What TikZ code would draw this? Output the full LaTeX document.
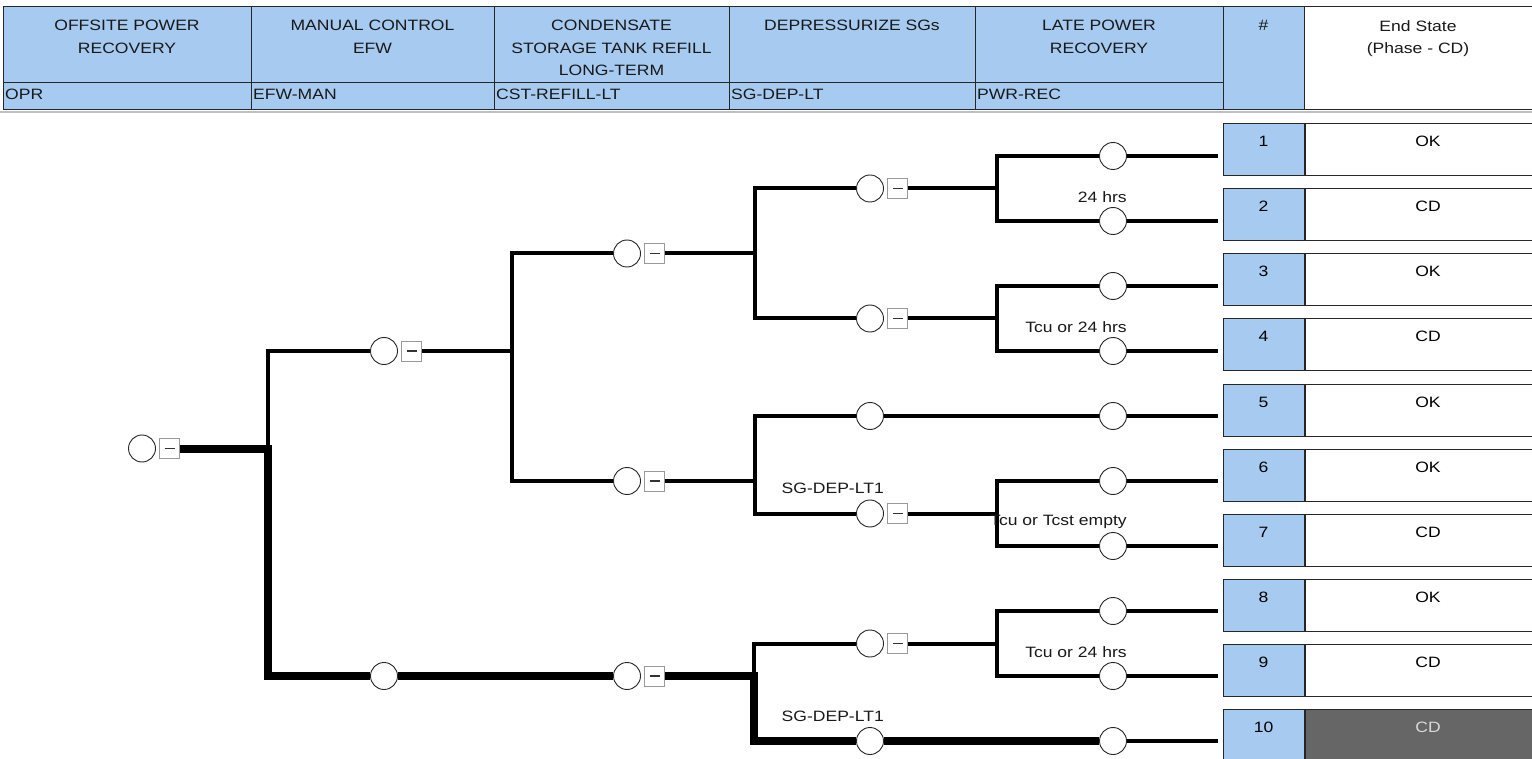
\documentclass[tikz,border=0pt]{standalone}
\usepackage{fontspec}
\setmainfont{Liberation Sans}[FakeStretch=1.17]
\usetikzlibrary{positioning}
\definecolor{hblue}{HTML}{A6CAF0}
\definecolor{esdarkgray}{HTML}{666666}
\tikzset{
  hcell/.style={draw=black!85, fill=hblue, line width=1pt},
  ecell/.style={draw=black!85, fill=white, line width=1pt},
  htext/.style={anchor=north, align=center, inner sep=0pt, text=black!90},
  ctext/.style={anchor=base west, inner sep=0pt, text=black!90},
  ev/.style={circle, draw=black!85, fill=white, line width=0.9pt,
    minimum size=27pt, inner sep=0pt},
  gate/.style={draw=black!40, fill=white, line width=0.9pt,
    minimum size=20pt, inner sep=0pt,
    path picture={\draw[black!80, line width=1.3pt]
      ([xshift=-5pt]path picture bounding box.center) --
      ([xshift=5pt]path picture bounding box.center);}},
  branch/.style={line width=4pt, black},
  fatbranch/.style={line width=8pt, black},
  lbl/.style={anchor=east, inner sep=0pt, text=black!90},
  numbox/.style={draw=black!85, fill=hblue, line width=1pt, inner sep=0pt,
    minimum width=81pt, minimum height=52pt, text height=23pt, text depth=29pt},
  esbox/.style={draw=black!85, fill=white, line width=1pt, inner sep=0pt,
    minimum width=246pt, minimum height=52pt, text height=23pt, text depth=29pt},
  esdark/.style={esbox, fill=esdarkgray, text=black!15}
}

\begin{document}
\begin{tikzpicture}[x=1pt, y=-1pt, font=\fontsize{15}{22.6}\selectfont]
  \useasboundingbox (0,0) rectangle (1532,759);
  \fill[white] (0,0) rectangle (1532,759);

  %% header
  \foreach \n/\xa/\xb/\ttl/\cd in {
      opr/3/251/{OFFSITE POWER\\RECOVERY}/OPR,
      efw/251/494/{MANUAL CONTROL\\EFW}/EFW-MAN,
      cst/494/729/{CONDENSATE\\STORAGE TANK REFILL\\LONG-TERM}/CST-REFILL-LT,
      sg/729/975/{DEPRESSURIZE SGs}/SG-DEP-LT,
      pwr/975/1223/{LATE POWER\\RECOVERY}/PWR-REC}
  {
    \draw[hcell] (\xa,7) rectangle (\xb,83);
    \draw[hcell] (\xa,83) rectangle (\xb,110);
    \node[htext] (t\n) at ({(\xa+\xb)/2},20) {\ttl};
    \node[ctext] (c\n) at (\xa+2,100) {\cd};
  }
  \draw[hcell] (1223,7) rectangle (1304,110);
  \node[htext] (thash) at (1263.5,20) {\#};
  \draw[ecell] (1304,7) rectangle (1534,110);
  \node[htext] (tend) at (1418,20) {End State\\(Phase - CD)};
  \draw[black!25, line width=2pt] (0,112.5) -- (1532,112.5);

  %% end states
  \foreach \k/\es/\st in {1/OK/esbox, 2/CD/esbox, 3/OK/esbox, 4/CD/esbox,
      5/OK/esbox, 6/OK/esbox, 7/CD/esbox, 8/OK/esbox, 9/CD/esbox, 10/CD/esdark}
  {
    \node[numbox] (num\k) at (1263.5, {150+65*(\k-1)}) {\k};
    \node[\st, right=0pt of num\k] (es\k) {\es};
  }

  %% event tree: circles and gates
  \node[ev] (opr) at (142,448.5) {};
  \node[gate, right=3.5pt of opr] (oprg) {};

  \node[ev] (efw1) at (384,351) {};
  \node[gate, right=3.5pt of efw1] (efw1g) {};
  \node[ev] (efw2) at (384,676) {};

  \node[ev] (cst1) at (627,253.5) {};
  \node[gate, right=3.5pt of cst1] (cst1g) {};
  \node[ev] (cst2) at (627,481) {};
  \node[gate, right=3.5pt of cst2] (cst2g) {};
  \node[ev] (cst3) at (627,676) {};
  \node[gate, right=3.5pt of cst3] (cst3g) {};

  \node[ev] (sg1) at (870,188.5) {};
  \node[gate, right=3.5pt of sg1] (sg1g) {};
  \node[ev] (sg2) at (870,318.5) {};
  \node[gate, right=3.5pt of sg2] (sg2g) {};
  \node[ev] (sg3) at (870,416) {};
  \node[ev] (sg4) at (870,513.5) {};
  \node[gate, right=3.5pt of sg4] (sg4g) {};
  \node[ev] (sg5) at (870,643.5) {};
  \node[gate, right=3.5pt of sg5] (sg5g) {};
  \node[ev] (sg6) at (870,741) {};

  \foreach \k in {1,...,10}
    \node[ev] (pwr\k) at (1113, {156+65*(\k-1)}) {};

  %% junctions
  \coordinate (ja) at (268,448.5);
  \coordinate (jb) at (512,351);
  \coordinate (jc1) at (755,253.5);
  \coordinate (jc2) at (755,481);
  \coordinate (jc3) at (754,676);
  \coordinate (jd1) at (997,188.5);
  \coordinate (jd2) at (997,318.5);
  \coordinate (jd4) at (997,513.5);
  \coordinate (jd5) at (997,643.5);

  %% branches
  \draw[branch] (ja) |- (efw1.west);
  \draw[branch] (efw1g.east) -- (jb);
  \draw[branch] (jb) |- (cst1.west);
  \draw[branch] (jb) |- (cst2.west);

  \draw[branch] (cst1g.east) -- (jc1);
  \draw[branch] (jc1) |- (sg1.west);
  \draw[branch] (jc1) |- (sg2.west);
  \draw[branch] (sg1g.east) -- (jd1);
  \draw[branch] (jd1) |- (pwr1.west);
  \draw[branch] (jd1) |- (pwr2.west);
  \draw[branch] (sg2g.east) -- (jd2);
  \draw[branch] (jd2) |- (pwr3.west);
  \draw[branch] (jd2) |- (pwr4.west);

  \draw[branch] (cst2g.east) -- (jc2);
  \draw[branch] (jc2) |- (sg3.west);
  \draw[branch] (jc2) |- (sg4.west);
  \draw[branch] (sg3.east) -- (pwr5.west);
  \draw[branch] (sg4g.east) -- (jd4);
  \draw[branch] (jd4) |- (pwr6.west);
  \draw[branch] (jd4) |- (pwr7.west);

  \draw[branch] (jc3) |- (sg5.west);
  \draw[branch] (sg5g.east) -- (jd5);
  \draw[branch] (jd5) |- (pwr8.west);
  \draw[branch] (jd5) |- (pwr9.west);

  %% failure path
  \draw[fatbranch] (oprg.east) -- (ja) |- (efw2.west);
  \draw[fatbranch] (efw2.east) -- (cst3.west);
  \draw[fatbranch] (cst3g.east) -- (jc3) |- (sg6.west);
  \draw[fatbranch] (sg6.east) -- (pwr10.west);

  \foreach \k in {1,...,10}
    \draw[branch, shorten >=5pt] (pwr\k.east) -- (pwr\k.east -| num\k.west);

  %% branch labels
  \node[lbl] (l24) at ([yshift=24pt]pwr2.east) {24 hrs};
  \node[lbl] (ltcu1) at ([yshift=24pt]pwr4.east) {Tcu or 24 hrs};
  \node[lbl] (ltcst) at ([yshift=24pt]pwr7.east) {Tcu or Tcst empty};
  \node[lbl] (ltcu2) at ([yshift=24pt]pwr9.east) {Tcu or 24 hrs};
  \node[lbl] (lsg1) at ([yshift=25pt]sg4.east) {SG-DEP-LT1};
  \node[lbl] (lsg2) at ([yshift=25pt]sg6.east) {SG-DEP-LT1};
\end{tikzpicture}
\end{document}
